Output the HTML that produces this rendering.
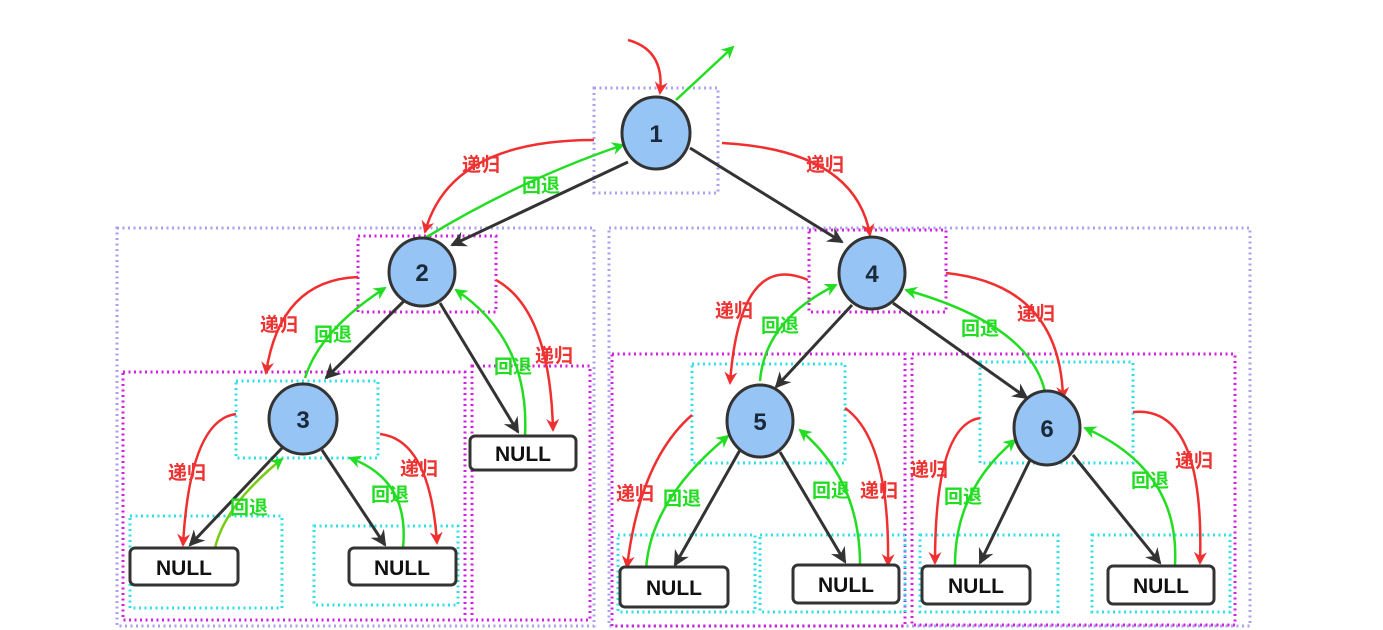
<!DOCTYPE html>
<html><head><meta charset="utf-8"><style>
html,body{margin:0;padding:0;background:#fff;}
svg{display:block;}
text{font-family:"Liberation Sans","Noto Sans CJK SC",sans-serif;}
.lab{font-size:19px;font-weight:bold;}
</style></head><body>
<svg width="1383" height="630" viewBox="0 0 1383 630" xmlns="http://www.w3.org/2000/svg">
<defs>
<marker id="mr" markerWidth="13" markerHeight="13" refX="11" refY="6.5" orient="auto" markerUnits="userSpaceOnUse" viewBox="0 0 13 13"><path d="M0,0 L13,6.5 L0,13 L4,6.5 z" fill="#f03030"/></marker>
<marker id="mg" markerWidth="13" markerHeight="13" refX="11" refY="6.5" orient="auto" markerUnits="userSpaceOnUse" viewBox="0 0 13 13"><path d="M0,0 L13,6.5 L0,13 L4,6.5 z" fill="#22dd22"/></marker>
<marker id="mk" markerWidth="16" markerHeight="16" refX="14" refY="8" orient="auto" markerUnits="userSpaceOnUse" viewBox="0 0 16 16"><path d="M0,0 L16,8 L0,16 L5,8 z" fill="#333"/></marker>
</defs>
<g fill="none" stroke-width="3" stroke-dasharray="2,3.5">
<g stroke="#a9a0f0">
<rect x="594" y="88" width="124" height="105"/>
<rect x="117" y="228" width="477" height="398"/>
<rect x="609" y="228" width="641" height="398"/>
</g>
<g stroke="#d020e0">
<rect x="358" y="236" width="138" height="76"/>
<rect x="123" y="372" width="342" height="248"/>
<rect x="472" y="366" width="118" height="254"/>
<rect x="809" y="230" width="137" height="82"/>
<rect x="612" y="354" width="293" height="272"/>
<rect x="912" y="354" width="323" height="271"/>
</g>
<g stroke="#30e0e8">
<rect x="236" y="381" width="142" height="77"/>
<rect x="130" y="516" width="152" height="92"/>
<rect x="314" y="526" width="144" height="79"/>
<rect x="692" y="364" width="153" height="99"/>
<rect x="980" y="362" width="153" height="101"/>
<rect x="618" y="535" width="137" height="77"/>
<rect x="760" y="535" width="145" height="77"/>
<rect x="920" y="535" width="138" height="77"/>
<rect x="1092" y="535" width="138" height="77"/>
</g>
</g>
<g stroke="#333" stroke-width="3" fill="none" marker-end="url(#mk)">
<path d="M628,162 L452,245"/>
<path d="M690,148 L842,242"/>
<path d="M405,300 L326,378"/>
<path d="M440,303 L518,432"/>
<path d="M282,448 L190,545"/>
<path d="M322,450 L385,545"/>
<path d="M852,305 L776,387"/>
<path d="M893,303 L1027,398"/>
<path d="M740,450 L675,565"/>
<path d="M780,452 L845,562"/>
<path d="M1030,460 L980,563"/>
<path d="M1073,455 L1160,563"/>
</g>
<g stroke="#f03030" stroke-width="2.5" fill="none" marker-end="url(#mr)">
<path d="M628,40 Q665,50 660,93"/>
<path d="M594,140 Q450,140 425,232"/>
<path d="M722,143 Q855,150 870,235"/>
<path d="M358,277 Q280,280 266,373"/>
<path d="M496,280 Q550,310 553,430"/>
<path d="M236,414 Q190,420 183,545"/>
<path d="M380,434 Q430,440 437,543"/>
<path d="M808,280 Q740,250 730,383"/>
<path d="M946,273 Q1060,285 1063,398"/>
<path d="M692,415 Q640,460 627,567"/>
<path d="M845,408 Q890,440 888,565"/>
<path d="M980,418 Q935,425 935,563"/>
<path d="M1133,412 Q1205,405 1200,563"/>
</g>
<g stroke="#22dd22" stroke-width="2.5" fill="none" marker-end="url(#mg)">
<path d="M676,100 L733,47"/>
<path d="M425,238 Q520,180 623,145"/>
<path d="M305,378 Q320,330 385,288"/>
<path d="M525,436 Q530,340 456,290"/>
<path d="M215,548 Q225,505 282,459" stroke="#77cc11"/>
<path d="M403,548 Q410,480 350,458"/>
<path d="M760,381 Q765,320 836,285"/>
<path d="M1045,392 Q1030,325 906,290"/>
<path d="M646,570 Q650,500 728,436"/>
<path d="M860,565 Q860,480 800,430"/>
<path d="M955,565 Q955,490 1015,440"/>
<path d="M1175,565 Q1180,470 1085,428"/>
</g>
<g class="lab" fill="#ee3333">
<text x="462" y="171">递归</text>
<text x="806" y="171">递归</text>
<text x="260" y="331">递归</text>
<text x="535" y="362">递归</text>
<text x="168" y="479">递归</text>
<text x="400" y="475">递归</text>
<text x="715" y="317">递归</text>
<text x="1017" y="320">递归</text>
<text x="616" y="500">递归</text>
<text x="860" y="497">递归</text>
<text x="910" y="476">递归</text>
<text x="1175" y="467">递归</text>
</g>
<g class="lab" fill="#22dd22">
<text x="522" y="192">回退</text>
<text x="314" y="341">回退</text>
<text x="494" y="373">回退</text>
<text x="230" y="514">回退</text>
<text x="371" y="501">回退</text>
<text x="761" y="332">回退</text>
<text x="961" y="335">回退</text>
<text x="663" y="505">回退</text>
<text x="812" y="497">回退</text>
<text x="944" y="503">回退</text>
<text x="1131" y="487">回退</text>
</g>
<g stroke="#333" stroke-width="3" fill="#95c4f5">
<ellipse cx="656" cy="133" rx="34" ry="36"/>
<ellipse cx="422" cy="272" rx="33" ry="34"/>
<ellipse cx="303" cy="419" rx="34" ry="35"/>
<ellipse cx="872" cy="273" rx="33" ry="36"/>
<ellipse cx="760" cy="421" rx="33" ry="36"/>
<ellipse cx="1047" cy="428" rx="33" ry="37"/>
</g>
<g font-size="24" font-weight="bold" fill="#1a2a3a" text-anchor="middle">
<text x="656" y="142">1</text>
<text x="422" y="281">2</text>
<text x="303" y="428">3</text>
<text x="872" y="282">4</text>
<text x="760" y="430">5</text>
<text x="1047" y="437">6</text>
</g>
<g stroke="#333" stroke-width="3" fill="#fff">
<rect x="470" y="436" width="106" height="34" rx="5"/>
<rect x="130" y="548" width="108" height="37" rx="5"/>
<rect x="349" y="548" width="107" height="37" rx="5"/>
<rect x="620" y="567" width="108" height="40" rx="5"/>
<rect x="793" y="565" width="106" height="38" rx="5"/>
<rect x="922" y="566" width="108" height="38" rx="5"/>
<rect x="1108" y="566" width="106" height="38" rx="5"/>
</g>
<g font-size="21" font-weight="bold" fill="#111" text-anchor="middle">
<text x="523" y="461">NULL</text>
<text x="184" y="575">NULL</text>
<text x="402" y="575">NULL</text>
<text x="674" y="595">NULL</text>
<text x="846" y="592">NULL</text>
<text x="976" y="593">NULL</text>
<text x="1161" y="593">NULL</text>
</g>
</svg>
</body></html>
